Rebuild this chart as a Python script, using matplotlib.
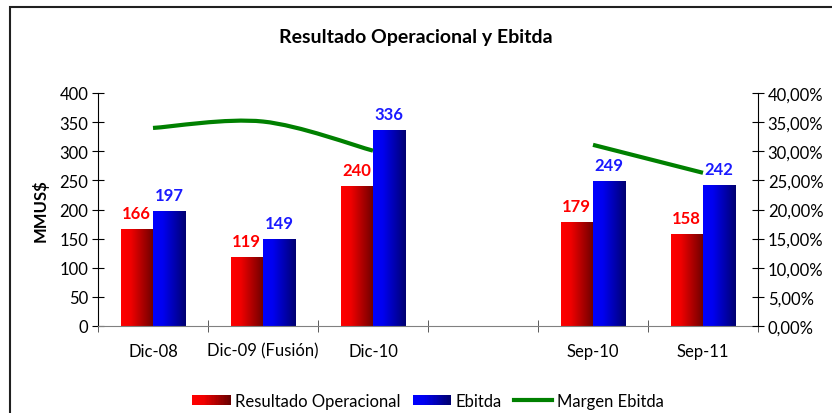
import numpy as np
import matplotlib
matplotlib.use("Agg")
import matplotlib.pyplot as plt
from matplotlib.colors import LinearSegmentedColormap
from matplotlib.legend_handler import HandlerBase
from matplotlib.lines import Line2D
from matplotlib.patches import Rectangle, Patch, PathPatch
from matplotlib.path import Path

plt.rcParams["font.family"] = ["Lato", "DejaVu Sans"]

categories = ["Dic-08", "Dic-09 (Fusión)", "Dic-10", "", "Sep-10", "Sep-11"]
resultado = [166, 119, 240, None, 179, 158]
ebitda = [197, 149, 336, None, 249, 242]
# margen ebitda (%), two separate segments
margen_a_idx = [0, 1, 2]
margen_a = [34.0, 35.1, 30.1]
margen_b_idx = [4, 5]
margen_b = [31.1, 26.3]

red_cmap = LinearSegmentedColormap.from_list("r", [(0, "#ff0000"), (0.3, "#f00000"), (1, "#6a0000")])
blue_cmap = LinearSegmentedColormap.from_list("b", [(0, "#0000ff"), (0.3, "#0000f0"), (1, "#000070")])
GREEN = "#008000"
FS = 12


def gradient_bars(ax, xs, heights, width, cmap):
    grad = np.linspace(0, 1, 256).reshape(1, -1)
    for x, h in zip(xs, heights):
        if h is None:
            continue
        bar = ax.bar(x, h, width, align="edge", color="none", edgecolor="none", zorder=2)[0]
        im = ax.imshow(grad, cmap=cmap, aspect="auto", extent=(x, x + width, 0, h),
                       zorder=2, interpolation="bilinear")
        im.set_clip_path(bar)


def smooth_path(xs, ys):
    # Excel-style smoothed line via cubic bezier segments
    pts = np.column_stack([xs, ys])
    n = len(pts)
    verts = [pts[0]]
    codes = [Path.MOVETO]
    for i in range(n - 1):
        p0 = pts[i - 1] if i > 0 else pts[i]
        p1, p2 = pts[i], pts[i + 1]
        p3 = pts[i + 2] if i + 2 < n else pts[i + 1]
        c1 = p1 + (p2 - p0) / 6
        c2 = p2 - (p3 - p1) / 6
        verts += [c1, c2, p2]
        codes += [Path.CURVE4] * 3
    return Path(verts, codes)


class GradientHandler(HandlerBase):
    def __init__(self, cmap):
        super().__init__()
        self.cmap = cmap

    def create_artists(self, legend, orig_handle, xdescent, ydescent, width, height, fontsize, trans):
        n = 30
        arts = []
        for k in range(n):
            r = Rectangle((-xdescent + width * k / n, -ydescent), width / n + 0.3, height,
                          facecolor=self.cmap(k / (n - 1)), edgecolor="none", transform=trans)
            arts.append(r)
        return arts


fig = plt.figure(figsize=(8.32, 4.14), dpi=100)
ax = fig.add_axes([98 / 832, 1 - 327 / 414, 660 / 832, 233 / 414])

x = np.arange(len(categories))
w = 0.295
gradient_bars(ax, x - w, resultado, w, red_cmap)
gradient_bars(ax, x, ebitda, w, blue_cmap)

for xi, r, e in zip(x, resultado, ebitda):
    if r is None:
        continue
    ax.annotate(str(r), (xi - w / 2, r), xytext=(0, 8), textcoords="offset points",
                ha="center", va="baseline", color="#ff0000", fontsize=FS, fontweight="bold")
    ax.annotate(str(e), (xi + w / 2, e), xytext=(0, 8), textcoords="offset points",
                ha="center", va="baseline", color="#1a1aff", fontsize=FS, fontweight="bold")

ax.set_xlim(-0.5, len(categories) - 0.5)
ax.set_ylim(0, 400)
ax.set_yticks(range(0, 401, 50))
ax.set_xticks(x)
ax.set_xticklabels(categories, fontsize=FS)
ax.set_xticks(np.arange(-0.5, len(categories), 1.0), minor=True)
ax.tick_params(axis="x", which="major", length=0, pad=12)
ax.tick_params(axis="x", which="minor", direction="inout", length=8, color="#404040")
ax.tick_params(axis="y", direction="inout", length=8, labelsize=FS, pad=3)
ax.set_ylabel("MMUS$", fontsize=FS, fontweight="bold", labelpad=8)
for s in ["top", "right"]:
    ax.spines[s].set_visible(False)
ax.spines["bottom"].set_color("#808080")
ax.spines["left"].set_color("black")

ax2 = ax.twinx()
ax2.set_ylim(0, 40)
ax2.set_yticks(range(0, 41, 5))
ax2.set_yticklabels([f"{v:.2f}%".replace(".", ",") for v in range(0, 41, 5)])
ax2.tick_params(axis="y", direction="inout", length=8, labelsize=FS, pad=3)
for s in ["top", "left", "bottom"]:
    ax2.spines[s].set_visible(False)
ax2.add_patch(PathPatch(smooth_path(margen_a_idx, margen_a), facecolor="none",
                        edgecolor=GREEN, lw=3, zorder=3, capstyle="butt"))
ax2.add_patch(PathPatch(smooth_path(margen_b_idx, margen_b), facecolor="none",
                        edgecolor=GREEN, lw=3, zorder=3, capstyle="butt"))

fig.text(0.5, 1 - 38 / 414, "Resultado Operacional y Ebitda", ha="center", va="center",
         fontsize=14, fontweight="bold")

handles = [Patch(), Patch(), Line2D([], [], color=GREEN, lw=3)]
fig.legend(handles, ["Resultado Operacional", "Ebitda", "Margen Ebitda"],
           handler_map={handles[0]: GradientHandler(red_cmap), handles[1]: GradientHandler(blue_cmap)},
           loc="center", bbox_to_anchor=(428 / 832, 1 - 402 / 414), ncol=3, frameon=False,
           fontsize=FS, handlelength=2.3, handleheight=0.6, handletextpad=0.3, columnspacing=0.7)

fig.patches.append(Rectangle((10 / 832, -0.1), 2, 1 - 8 / 414 + 0.1, transform=fig.transFigure,
                             facecolor="none", edgecolor="#202020", lw=1.5))

fig.savefig("out.png", dpi=100)
